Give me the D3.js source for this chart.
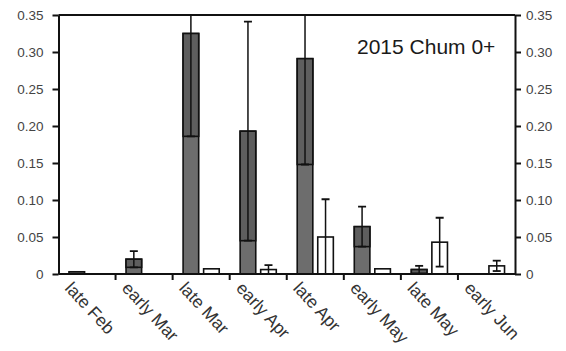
<!DOCTYPE html>
<html>
<head>
<meta charset="utf-8">
<script src="https://cdn.jsdelivr.net/npm/d3@7/dist/d3.min.js"></script>
<style>
  html, body { margin: 0; padding: 0; background: #fff; }
  svg { display: block; font-family: "Liberation Sans", Arial, sans-serif; }
</style>
</head>
<body>
<svg id="chart" width="566" height="351"></svg>
<script>
// Chum 0+ catch per half-month period, two groups (filled and open bars)
const categories = ["late Feb", "early Mar", "late Mar", "early Apr", "late Apr", "early May", "late May", "early Jun"];
const filledMean = [0.003, 0.020, 0.325, 0.193, 0.291, 0.064, 0.006, null];
const filledErr  = [0,     0.011, 0.139, 0.148, 0.143, 0.027, 0.005, null];
const openMean   = [null,  null,  0.007, 0.006, 0.050, 0.007, 0.043, 0.011];
const openErr    = [null,  null,  0,     0.006, 0.051, 0,     0.033, 0.007];
const yTicks = [0, 0.05, 0.10, 0.15, 0.20, 0.25, 0.30, 0.35];
const title = "2015 Chum 0+";

const svg = d3.select("#chart");
const plotLeft = 58.5, plotRight = 515, plotTop = 15, plotBottom = 274;

const x = d3.scaleBand().domain(categories).range([plotLeft, plotRight]).padding(0);
const sub = d3.scaleBand().domain(["filled", "open"]).range([0, x.bandwidth()])
  .paddingInner(0.24).paddingOuter(0.51);
const y = d3.scaleLinear().domain([0, 0.35]).range([plotBottom, plotTop]);

svg.append("defs").append("clipPath").attr("id", "plot")
  .append("rect").attr("x", plotLeft).attr("y", plotTop)
  .attr("width", plotRight - plotLeft).attr("height", plotBottom - plotTop);

const series = [
  { key: "filled", mean: filledMean, err: filledErr, fill: "#6d6d6d" },
  { key: "open", mean: openMean, err: openErr, fill: "#ffffff" }
];

const plot = svg.append("g").attr("clip-path", "url(#plot)");

series.forEach(s => {
  const rows = categories.map((c, i) => ({ c, m: s.mean[i], e: s.err[i] })).filter(d => d.m != null);
  const bw = sub.bandwidth();
  const g = plot.append("g");
  g.selectAll("rect.bar").data(rows).join("rect")
    .attr("class", "bar")
    .attr("x", d => x(d.c) + sub(s.key))
    .attr("y", d => y(d.m))
    .attr("width", bw)
    .attr("height", d => y(0) - y(d.m))
    .attr("fill", s.fill)
    .attr("stroke", "#111")
    .attr("stroke-width", 1.6);

  // lower error range shaded inside the filled bars
  if (s.key === "filled") {
    g.selectAll("rect.band").data(rows.filter(d => d.e > 0)).join("rect")
      .attr("class", "band")
      .attr("x", d => x(d.c) + sub(s.key))
      .attr("y", d => y(d.m))
      .attr("width", bw)
      .attr("height", d => y(Math.max(0, d.m - d.e)) - y(d.m))
      .attr("fill", "#5e5e5e")
      .attr("stroke", "#111")
      .attr("stroke-width", 1.6);
  }

  const eb = rows.filter(d => d.e > 0);
  const cx = d => x(d.c) + sub(s.key) + bw / 2;
  g.selectAll("line.err").data(eb).join("line")
    .attr("class", "err")
    .attr("x1", cx).attr("x2", cx)
    .attr("y1", d => y(d.m + d.e)).attr("y2", d => y(Math.max(0, d.m - d.e)))
    .attr("stroke", "#111").attr("stroke-width", 1.5);
  g.selectAll("line.capTop").data(eb).join("line")
    .attr("class", "capTop")
    .attr("x1", d => cx(d) - 4).attr("x2", d => cx(d) + 4)
    .attr("y1", d => y(d.m + d.e)).attr("y2", d => y(d.m + d.e))
    .attr("stroke", "#111").attr("stroke-width", 1.8);
  g.selectAll("line.capBot").data(eb.filter(d => d.m - d.e > 0.002)).join("line")
    .attr("class", "capBot")
    .attr("x1", d => cx(d) - 4).attr("x2", d => cx(d) + 4)
    .attr("y1", d => y(d.m - d.e)).attr("y2", d => y(d.m - d.e))
    .attr("stroke", "#111").attr("stroke-width", 1.8);
});

// y axes on both sides
const fmt = d => d === 0 ? "0" : d3.format(".2f")(d);
const axL = svg.append("g").attr("transform", `translate(${plotLeft},0)`)
  .call(d3.axisLeft(y).tickValues(yTicks).tickFormat(fmt).tickSize(6).tickPadding(9).tickSizeOuter(0));
const axR = svg.append("g").attr("transform", `translate(${plotRight},0)`)
  .call(d3.axisRight(y).tickValues(yTicks).tickFormat(fmt).tickSize(6).tickPadding(5).tickSizeOuter(0));
[axL, axR].forEach(a => {
  a.select(".domain").attr("stroke", "#111").attr("stroke-width", 2);
  a.selectAll(".tick line").attr("stroke", "#111").attr("stroke-width", 2);
  a.selectAll(".tick text").attr("fill", "#444").style("font-size", "13.5px")
    .style("font-family", "'Liberation Sans', Arial, sans-serif");
});

// top border and baseline
svg.append("line").attr("x1", plotLeft).attr("x2", plotRight).attr("y1", plotTop).attr("y2", plotTop)
  .attr("stroke", "#111").attr("stroke-width", 2);
svg.append("line").attr("x1", plotLeft).attr("x2", plotRight).attr("y1", y(0)).attr("y2", y(0))
  .attr("stroke", "#111").attr("stroke-width", 2);

// category boundary ticks
svg.append("g").selectAll("line").data(categories.slice(1)).join("line")
  .attr("x1", d => x(d)).attr("x2", d => x(d))
  .attr("y1", y(0)).attr("y2", y(0) + 6)
  .attr("stroke", "#111").attr("stroke-width", 2);

// rotated category labels
svg.append("g").selectAll("text").data(categories).join("text")
  .attr("transform", d => `translate(${x(d) + x.bandwidth() / 2 - 23},289) rotate(47)`)
  .attr("fill", "#333")
  .style("font-size", "17.5px")
  .text(d => d);

svg.append("text").attr("x", 357).attr("y", 54)
  .attr("fill", "#1a1a1a").style("font-size", "21px").text(title);
</script>
</body>
</html>
